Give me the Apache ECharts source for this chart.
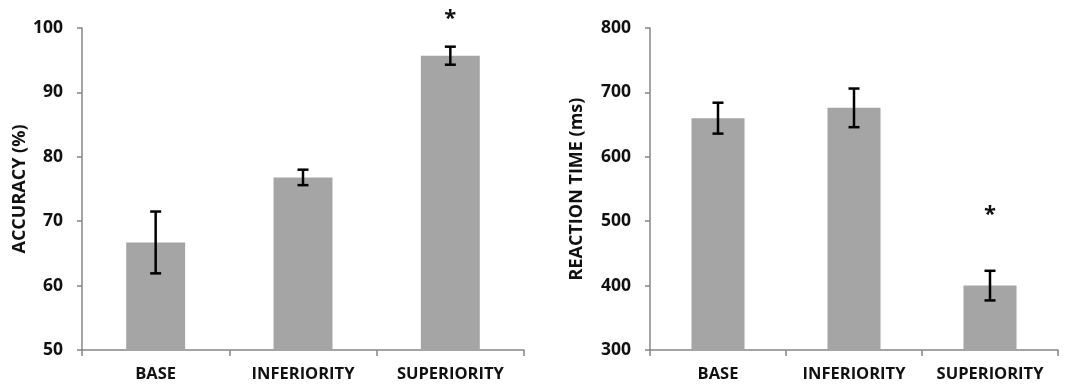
<!DOCTYPE html>
<html>
<head>
<meta charset="utf-8">
<script src="https://cdn.jsdelivr.net/npm/echarts@6/dist/echarts.min.js"></script>
<style>
html,body{margin:0;padding:0;background:#fff;}
#c{width:1072px;height:385px;}
</style>
</head>
<body>
<div id="c"></div>
<script>
const categories = ['BASE', 'INFERIORITY', 'SUPERIORITY'];
const accuracy = [66.7, 76.8, 95.7];
const accuracyErr = [4.8, 1.2, 1.4];
const accuracySig = [null, null, 102.0];
const reaction = [660, 676, 400];
const reactionErr = [24, 30, 23];
const reactionSig = [null, null, 517];
const accTicks = [50, 60, 70, 80, 90, 100];
const rtTicks = [300, 400, 500, 600, 700, 800];

const FONT = '"Open Sans", "Liberation Sans", sans-serif';
const axisColor = '#878787';
const barColor = '#a5a5a5';

function errSeries(idx, vals, errs) {
  return {
    type: 'custom',
    xAxisIndex: idx, yAxisIndex: idx,
    data: vals.map((v, i) => [i, v - errs[i], v + errs[i]]),
    z: 10,
    renderItem: function (params, api) {
      const lo = api.coord([api.value(0), api.value(1)]);
      const hi = api.coord([api.value(0), api.value(2)]);
      const cw = 5.5;
      const st = { stroke: '#000', lineWidth: 2.5 };
      return {
        type: 'group',
        children: [
          { type: 'line', shape: { x1: hi[0], y1: hi[1], x2: lo[0], y2: lo[1] }, style: st },
          { type: 'line', shape: { x1: hi[0] - cw, y1: hi[1], x2: hi[0] + cw, y2: hi[1] }, style: st },
          { type: 'line', shape: { x1: lo[0] - cw, y1: lo[1], x2: lo[0] + cw, y2: lo[1] }, style: st }
        ]
      };
    }
  };
}
function sigSeries(idx, sig) {
  return {
    type: 'custom',
    xAxisIndex: idx, yAxisIndex: idx,
    clip: false,
    data: sig.map((v, i) => [i, v]).filter(d => d[1] !== null),
    z: 10,
    renderItem: function (params, api) {
      const p = api.coord([api.value(0), api.value(1)]);
      return {
        type: 'text',
        style: { text: '*', x: p[0], y: p[1] + 4, align: 'center', verticalAlign: 'middle',
                 font: 'bold 22px ' + FONT, fill: '#111' }
      };
    }
  };
}
function yAxis(idx, name, ticks, gap) {
  return {
    type: 'value', gridIndex: idx,
    min: ticks[0], max: ticks[ticks.length - 1], interval: ticks[1] - ticks[0],
    name: name, nameLocation: 'middle', nameGap: gap,
    nameTextStyle: { fontFamily: FONT, fontWeight: 'bold', fontSize: 18, color: '#111' },
    axisLine: { show: true, lineStyle: { color: axisColor, width: 1.5 } },
    axisTick: { show: true, length: 5, lineStyle: { color: axisColor, width: 1.5 } },
    axisLabel: { margin: 19, fontFamily: FONT, fontWeight: 'bold', fontSize: 17.5, color: '#111' },
    splitLine: { show: false }
  };
}
function xAxis(idx) {
  return {
    type: 'category', gridIndex: idx, data: categories,
    axisLine: { show: true, lineStyle: { color: axisColor, width: 1.5 } },
    axisTick: { show: true, length: 6, lineStyle: { color: axisColor, width: 1.5 } },
    axisLabel: { interval: 0, hideOverlap: false, margin: 16, fontFamily: FONT, fontWeight: 'bold',
                 fontSize: 16.5, color: '#111' }
  };
}

const chart = echarts.init(document.getElementById('c'), null, { renderer: 'canvas' });
chart.setOption({
  backgroundColor: '#fff',
  animation: false,
  grid: [
    { left: 82, top: 28, width: 442, height: 322 },
    { left: 650, top: 28, width: 408, height: 322 }
  ],
  xAxis: [xAxis(0), xAxis(1)],
  yAxis: [yAxis(0, 'ACCURACY (%)', accTicks, 46), yAxis(1, 'REACTION TIME (ms)', rtTicks, 64)],
  series: [
    { type: 'bar', xAxisIndex: 0, yAxisIndex: 0, data: accuracy, barWidth: '40%',
      itemStyle: { color: barColor } },
    { type: 'bar', xAxisIndex: 1, yAxisIndex: 1, data: reaction, barWidth: '39%',
      itemStyle: { color: barColor } },
    errSeries(0, accuracy, accuracyErr),
    errSeries(1, reaction, reactionErr),
    sigSeries(0, accuracySig),
    sigSeries(1, reactionSig)
  ]
});
</script>
</body>
</html>
